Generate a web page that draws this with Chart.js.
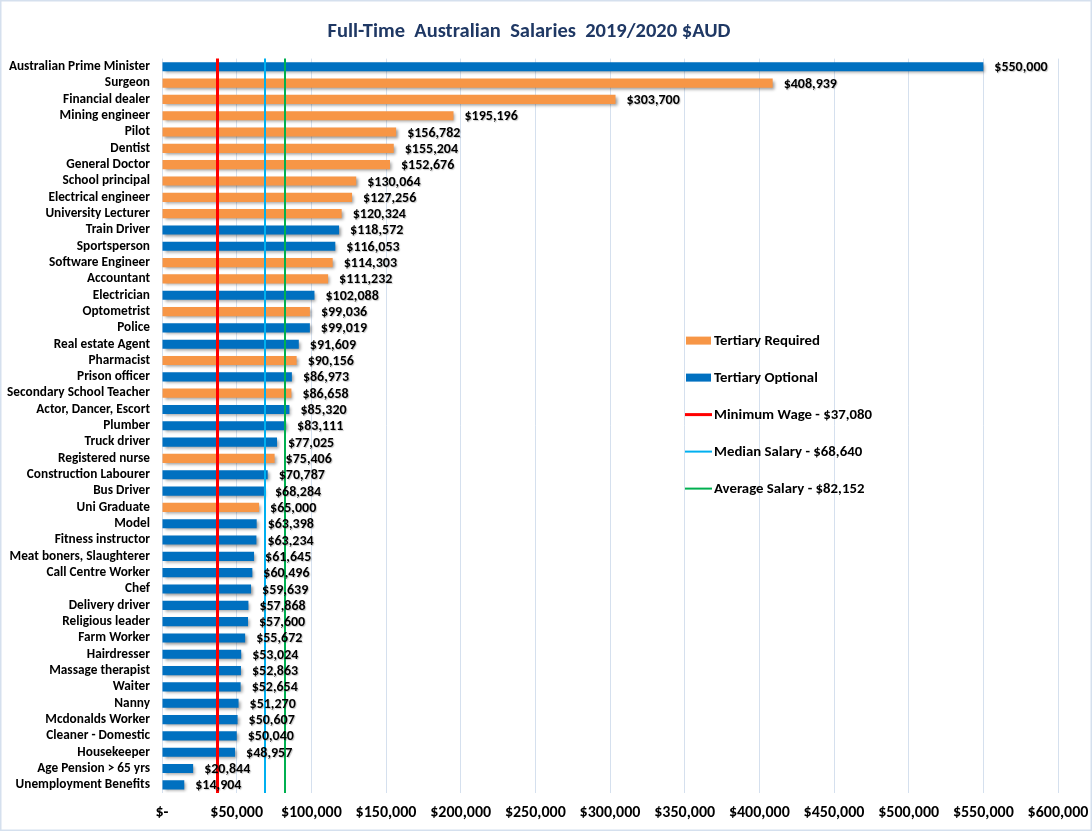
<!DOCTYPE html>
<html>
<head>
<meta charset="utf-8">
<script src="https://cdn.jsdelivr.net/npm/chart.js@4/dist/chart.umd.min.js"></script>
<style>
  html, body { margin: 0; padding: 0; background: #fff; }
  #wrap { width: 1092px; height: 831px; position: relative; }
</style>
</head>
<body>
<div id="wrap"><canvas id="c"></canvas></div>
<script>
const titleText = 'Full-Time  Australian  Salaries  2019/2020 $AUD';

const categories = [
  'Australian Prime Minister', 'Surgeon', 'Financial dealer', 'Mining engineer', 'Pilot',
  'Dentist', 'General Doctor', 'School principal', 'Electrical engineer', 'University Lecturer',
  'Train Driver', 'Sportsperson', 'Software Engineer', 'Accountant', 'Electrician',
  'Optometrist', 'Police', 'Real estate Agent', 'Pharmacist', 'Prison officer',
  'Secondary School Teacher', 'Actor, Dancer, Escort', 'Plumber', 'Truck driver', 'Registered nurse',
  'Construction Labourer', 'Bus Driver', 'Uni Graduate', 'Model', 'Fitness instructor',
  'Meat boners, Slaughterer', 'Call Centre Worker', 'Chef', 'Delivery driver', 'Religious leader',
  'Farm Worker', 'Hairdresser', 'Massage therapist', 'Waiter', 'Nanny',
  'Mcdonalds Worker', 'Cleaner - Domestic', 'Housekeeper', 'Age Pension > 65 yrs', 'Unemployment Benefits'
];

const salaries = [
  550000, 408939, 303700, 195196, 156782,
  155204, 152676, 130064, 127256, 120324,
  118572, 116053, 114303, 111232, 102088,
  99036, 99019, 91609, 90156, 86973,
  86658, 85320, 83111, 77025, 75406,
  70787, 68284, 65000, 63398, 63234,
  61645, 60496, 59639, 57868, 57600,
  55672, 53024, 52863, 52654, 51270,
  50607, 50040, 48957, 20844, 14904
];

// 'R' = Tertiary Required, 'O' = Tertiary Optional
const tertiary = [
  'O', 'R', 'R', 'R', 'R',
  'R', 'R', 'R', 'R', 'R',
  'O', 'O', 'R', 'R', 'O',
  'R', 'O', 'O', 'R', 'O',
  'R', 'O', 'O', 'O', 'R',
  'O', 'O', 'R', 'O', 'O',
  'O', 'O', 'O', 'O', 'O',
  'O', 'O', 'O', 'O', 'O',
  'O', 'O', 'O', 'O', 'O'
];

const seriesNames = ['Tertiary Required', 'Tertiary Optional'];
const refNames = ['Minimum Wage - $37,080', 'Median Salary - $68,640', 'Average Salary - $82,152'];
const refValues = [37080, 68640, 82152];

const xTicks = [0, 50000, 100000, 150000, 200000, 250000, 300000, 350000, 400000, 450000, 500000, 550000, 600000];

const colRequired = '#F79646';
const colOptional = '#0070C0';
const refColors = ['#FF0000', '#00B0F0', '#00B050'];
const refWidths = [3, 2, 2];

const FONT = 'Calibri, Carlito, Lato, sans-serif';

const requiredData = salaries.map((v, i) => tertiary[i] === 'R' ? v : null);
const optionalData = salaries.map((v, i) => tertiary[i] === 'O' ? v : null);

function money(v) {
  return v === 0 ? '$-' : '$' + Number(v).toLocaleString('en-US');
}

const bgPlugin = {
  id: 'bg',
  beforeDraw(chart) {
    const { ctx, width, height } = chart;
    ctx.save();
    ctx.fillStyle = '#fff';
    ctx.fillRect(0, 0, width, height);
    ctx.strokeStyle = '#D5E0EE';
    ctx.lineWidth = 1.5;
    ctx.strokeRect(0.75, 0.75, width - 1.5, height - 1.5);
    ctx.restore();
  }
};

const shadowPlugin = {
  id: 'barShadow',
  beforeDatasetsDraw(chart) {
    const ctx = chart.ctx;
    ctx.save();
    ctx.shadowColor = 'rgba(0,0,0,0.38)';
    ctx.shadowBlur = 3;
    ctx.shadowOffsetX = 2;
    ctx.shadowOffsetY = 2;
  },
  afterDatasetsDraw(chart) {
    chart.ctx.restore();
  }
};

const refLinesPlugin = {
  id: 'refLines',
  afterDatasetsDraw(chart) {
    const { ctx, chartArea, scales } = chart;
    ctx.save();
    refValues.forEach((v, i) => {
      const x = Math.round(scales.x.getPixelForValue(v)) + (refWidths[i] % 2 ? 0.5 : 0);
      ctx.strokeStyle = refColors[i];
      ctx.lineWidth = refWidths[i];
      ctx.beginPath();
      ctx.moveTo(x, chartArea.top);
      ctx.lineTo(x, chartArea.bottom);
      ctx.stroke();
    });
    ctx.restore();
  }
};

const labelsPlugin = {
  id: 'valueLabels',
  afterDraw(chart) {
    const { ctx } = chart;
    ctx.save();
    ctx.font = 'bold 14px ' + FONT;
    ctx.fillStyle = '#000';
    ctx.textAlign = 'left';
    ctx.textBaseline = 'middle';
    ctx.shadowColor = 'rgba(0,0,0,0.22)';
    ctx.shadowOffsetX = 1;
    ctx.shadowOffsetY = 1;
    ctx.shadowBlur = 1;
    chart.data.datasets.forEach((ds, di) => {
      const meta = chart.getDatasetMeta(di);
      meta.data.forEach((bar, i) => {
        const v = ds.data[i];
        if (v === null || v === undefined) return;
        ctx.fillText(money(v), bar.x + 11, bar.y + 1);
      });
    });
    ctx.restore();
  }
};

const legendPlugin = {
  id: 'customLegend',
  afterDraw(chart) {
    const { ctx, chartArea } = chart;
    const left = chartArea.left + 524;
    const top = chartArea.top + 282;
    const gap = 37;
    ctx.save();
    ctx.font = 'bold 14.8px ' + FONT;
    ctx.fillStyle = '#000';
    ctx.textAlign = 'left';
    ctx.textBaseline = 'middle';
    const items = [
      { text: seriesNames[0], type: 'box', color: colRequired },
      { text: seriesNames[1], type: 'box', color: colOptional },
      { text: refNames[0], type: 'line', color: refColors[0], w: refWidths[0] },
      { text: refNames[1], type: 'line', color: refColors[1], w: refWidths[1] },
      { text: refNames[2], type: 'line', color: refColors[2], w: refWidths[2] }
    ];
    items.forEach((it, i) => {
      const y = top + i * gap;
      if (it.type === 'box') {
        ctx.fillStyle = it.color;
        ctx.fillRect(left, y - 4, 25, 8);
      } else {
        ctx.strokeStyle = it.color;
        ctx.lineWidth = it.w;
        ctx.beginPath();
        ctx.moveTo(left - 1, y);
        ctx.lineTo(left + 26, y);
        ctx.stroke();
      }
      ctx.fillStyle = '#000';
      ctx.fillText(it.text, left + 28, y + 1);
    });
    ctx.restore();
  }
};

new Chart(document.getElementById('c'), {
  type: 'bar',
  data: {
    labels: categories,
    datasets: [
      { label: seriesNames[0], data: requiredData, backgroundColor: colRequired, grouped: false,
        categoryPercentage: 1, barPercentage: 0.56 },
      { label: seriesNames[1], data: optionalData, backgroundColor: colOptional, grouped: false,
        categoryPercentage: 1, barPercentage: 0.56 }
    ]
  },
  options: {
    indexAxis: 'y',
    responsive: true,
    maintainAspectRatio: false,
    animation: false,
    layout: { padding: { left: 0, right: 34, top: 0, bottom: 0 } },
    plugins: {
      legend: { display: false },
      tooltip: { enabled: false },
      title: {
        display: true,
        text: titleText,
        color: '#1F3864',
        font: { family: FONT, size: 20.5, weight: 'bold' },
        padding: { top: 20, bottom: 14 }
      }
    },
    scales: {
      x: {
        type: 'linear',
        min: 0,
        max: 600000,
        afterBuildTicks(scale) { scale.ticks = xTicks.map(v => ({ value: v })); },
        afterFit(scale) { scale.height = 38; scale.paddingLeft = 0; scale.paddingRight = 0; },
        grid: { color: '#D5E0EE', lineWidth: 1, drawTicks: false },
        border: { display: false },
        ticks: {
          padding: 10,
          color: '#000',
          font: { family: FONT, size: 16, weight: 'bold' },
          callback: (v) => money(v),
          maxRotation: 0,
          autoSkip: false
        }
      },
      y: {
        afterFit(scale) { scale.width = 162; },
        grid: { display: false, drawTicks: false },
        border: { display: false },
        ticks: {
          padding: 12,
          color: '#000',
          autoSkip: false,
          font: { family: FONT, size: 13.3, weight: 'bold' }
        }
      }
    }
  },
  plugins: [bgPlugin, shadowPlugin, refLinesPlugin, labelsPlugin, legendPlugin]
});
</script>
</body>
</html>
